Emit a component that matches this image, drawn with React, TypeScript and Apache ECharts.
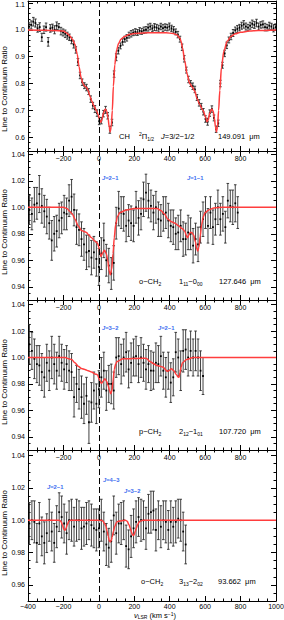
import React, { useEffect, useRef } from "react";
import * as echarts from "echarts";

// ---------- Panel 1: CH 2Pi1/2 J=3/2-1/2 149.091 um ----------
const p1Vel = [
  -394, -382, -370, -358, -346, -334, -322, -310, -298, -286,
  -274, -262, -250, -238, -226, -214, -202, -190, -178, -166,
  -154, -142, -130, -118, -106, -94, -82, -70, -58, -46,
  -34, -22, -10, 2, 14, 26, 38, 50, 62, 74,
  86, 98, 110, 122, 134, 146, 158, 170, 182, 194,
  206, 218, 230, 242, 254, 266, 278, 290, 302, 314,
  326, 338, 350, 362, 374, 386, 398, 410, 422, 434,
  446, 458, 470, 482, 494, 506, 518, 530, 542, 554,
  566, 578, 590, 602, 614, 626, 638, 650, 662, 674,
  686, 698, 710, 722, 734, 746, 758, 770, 782, 794,
  806, 818, 830, 842, 854, 866, 878, 890, 902, 914,
  926, 938, 950, 962, 974, 986, 998,
];
const p1Ratio = [
  1.012, 1.018, 1.03, 1.025, 1.005, 1.01, 0.972, 1.0, 1.01, 0.955,
  1.005, 1.008, 1.0, 1.015, 1.01, 0.995, 0.99, 0.985, 0.978, 0.972,
  0.96, 0.945, 0.925, 0.88, 0.83, 0.805, 0.792, 0.785, 0.77, 0.742,
  0.718, 0.705, 0.69, 0.66, 0.662, 0.688, 0.702, 0.68, 0.628, 0.655,
  0.835, 0.898, 0.922, 0.94, 0.955, 0.965, 0.97, 0.98, 0.985, 0.989,
  0.992, 0.99, 0.996, 0.994, 0.998, 1.0, 1.008, 1.012, 1.005, 1.01,
  1.008, 1.004, 1.012, 1.006, 1.01, 1.008, 1.012, 1.005, 1.0, 0.992,
  0.982, 0.965, 0.935, 0.892, 0.85, 0.815, 0.8, 0.79, 0.778, 0.748,
  0.728, 0.715, 0.695, 0.668, 0.658, 0.69, 0.705, 0.672, 0.63, 0.652,
  0.8, 0.868, 0.912, 0.942, 0.962, 0.975, 0.988, 0.998, 1.003, 1.008,
  1.015, 1.02, 1.012, 1.008, 1.015, 1.022, 1.018, 1.025, 1.012, 1.018,
  1.02, 1.01, 1.008, 1.015, 1.012, 1.005, 1.01,
];
const p1Err = [
  0.014, 0.015, 0.016, 0.015, 0.014, 0.016, 0.015, 0.014, 0.015, 0.016,
  0.014, 0.013, 0.015, 0.014, 0.013, 0.014, 0.013, 0.014, 0.013, 0.012,
  0.012, 0.013, 0.012, 0.013, 0.012, 0.012, 0.011, 0.012, 0.011, 0.012,
  0.012, 0.013, 0.012, 0.013, 0.012, 0.012, 0.013, 0.012, 0.013, 0.012,
  0.012, 0.013, 0.012, 0.011, 0.012, 0.011, 0.012, 0.011, 0.012, 0.011,
  0.012, 0.011, 0.012, 0.011, 0.012, 0.012, 0.013, 0.012, 0.012, 0.013,
  0.012, 0.013, 0.012, 0.013, 0.012, 0.012, 0.013, 0.012, 0.012, 0.011,
  0.012, 0.011, 0.012, 0.012, 0.011, 0.012, 0.011, 0.012, 0.012, 0.011,
  0.012, 0.011, 0.012, 0.012, 0.013, 0.012, 0.012, 0.011, 0.012, 0.012,
  0.012, 0.011, 0.012, 0.012, 0.011, 0.012, 0.013, 0.012, 0.013, 0.012,
  0.013, 0.014, 0.013, 0.012, 0.013, 0.014, 0.013, 0.014, 0.013, 0.012,
  0.013, 0.014, 0.012, 0.013, 0.012, 0.013, 0.012,
];
const p1ModelVel = [
  -400, -300, -250, -200, -182, -165, -150, -135, -122, -112,
  -100, -90, -80, -70, -60, -50, -40, -28, -14, -4,
  4, 10, 17, 26, 36, 44, 52, 58, 64, 70,
  76, 82, 90, 100, 112, 125, 145, 170, 200, 250,
  300, 380, 420, 438, 457, 465, 472, 485, 498, 513,
  528, 541, 554, 569, 588, 603, 610, 617, 626, 637,
  645, 652, 658, 664, 670, 676, 683, 692, 706, 725,
  745, 770, 800, 850, 900, 1000,
];
const p1ModelRatio = [
  0.999, 0.998, 0.997, 0.995, 0.988, 0.978, 0.966, 0.946, 0.909, 0.862,
  0.822, 0.8, 0.79, 0.786, 0.773, 0.752, 0.735, 0.717, 0.7, 0.685,
  0.665, 0.656, 0.664, 0.69, 0.705, 0.698, 0.672, 0.64, 0.62, 0.64,
  0.7, 0.79, 0.87, 0.925, 0.95, 0.965, 0.975, 0.982, 0.986, 0.988,
  0.989, 0.989, 0.986, 0.982, 0.97, 0.955, 0.933, 0.884, 0.835, 0.8,
  0.786, 0.772, 0.745, 0.722, 0.7, 0.675, 0.658, 0.664, 0.69, 0.705,
  0.698, 0.672, 0.64, 0.62, 0.64, 0.7, 0.775, 0.86, 0.921, 0.958,
  0.975, 0.985, 0.991, 0.995, 0.997, 0.999,
];

// ---------- Panel 2: o-CH2 1_11-0_00 127.646 um ----------
const p2Vel = [
  -392, -378, -364, -350, -336, -322, -308, -294, -280, -266,
  -252, -238, -224, -210, -196, -182, -168, -154, -140, -126,
  -112, -98, -84, -70, -56, -42, -28, -14, 0, 14,
  28, 42, 56, 70, 84, 98, 112, 126, 140, 154,
  168, 182, 196, 210, 224, 238, 252, 266, 280, 294,
  308, 322, 336, 350, 364, 378, 392, 406, 420, 434,
  448, 462, 476, 490, 504, 518, 532, 546, 560, 574,
  588, 602, 616, 630, 644, 658, 672, 686, 700, 714,
  728, 742, 756, 770, 784,
];
const p2Ratio = [
  0.998, 0.995, 1.002, 1.003, 1.01, 1.001, 0.997, 0.993, 0.988, 0.975,
  0.98, 0.982, 0.99, 0.992, 0.996, 0.995, 1.005, 1.008, 0.998, 0.985,
  0.983, 0.976, 0.972, 0.966, 0.967, 0.962, 0.966, 0.961, 0.955, 0.965,
  0.975, 0.96, 0.956, 0.95, 0.958, 0.988, 0.999, 0.996, 0.995, 0.986,
  0.99, 0.988, 0.986, 1.0, 0.992, 0.995, 1.006, 1.011, 1.005, 1.001,
  0.996, 1.0, 0.991, 0.99, 0.995, 0.996, 0.99, 0.986, 0.985, 0.98,
  0.981, 0.986, 0.976, 0.976, 0.981, 0.98, 0.971, 0.976, 0.972, 0.985,
  0.991, 0.996, 0.986, 0.996, 0.985, 0.991, 1.0, 0.991, 0.995, 0.985,
  1.005, 1.001, 1.0, 1.003, 0.996,
];
const p2Err = [
  0.011, 0.012, 0.013, 0.012, 0.014, 0.013, 0.012, 0.013, 0.012, 0.015,
  0.013, 0.012, 0.013, 0.012, 0.013, 0.012, 0.012, 0.013, 0.012, 0.013,
  0.012, 0.013, 0.012, 0.013, 0.012, 0.013, 0.012, 0.013, 0.014, 0.012,
  0.013, 0.012, 0.013, 0.012, 0.013, 0.012, 0.013, 0.012, 0.013, 0.012,
  0.012, 0.013, 0.012, 0.012, 0.013, 0.012, 0.013, 0.014, 0.013, 0.012,
  0.013, 0.012, 0.013, 0.012, 0.013, 0.012, 0.013, 0.012, 0.013, 0.012,
  0.013, 0.012, 0.013, 0.012, 0.013, 0.012, 0.013, 0.012, 0.013, 0.012,
  0.013, 0.012, 0.013, 0.012, 0.013, 0.012, 0.013, 0.012, 0.013, 0.012,
  0.013, 0.012, 0.013, 0.014, 0.012,
];
const p2ModelVel = [
  -400, -200, -180, -165, -150, -135, -117, -98, -85, -79,
  -70, -60, -41, -23, -8, 0, 6, 12, 21, 32,
  42, 50, 58, 65, 72, 80, 87, 95, 105, 119,
  156, 200, 330, 350, 370, 390, 410, 430, 450, 470,
  485, 493, 500, 508, 516, 525, 535, 545, 552, 558,
  565, 572, 580, 590, 600, 620, 650, 700, 1000,
];
const p2ModelRatio = [
  1.0, 1.0, 0.999, 0.997, 0.995, 0.991, 0.986, 0.9825, 0.9818, 0.9815,
  0.981, 0.9795, 0.977, 0.9745, 0.973, 0.97, 0.965, 0.963, 0.9655, 0.9675,
  0.965, 0.96, 0.952, 0.949, 0.953, 0.965, 0.977, 0.987, 0.993, 0.996,
  0.998, 0.999, 0.999, 0.9975, 0.995, 0.991, 0.989, 0.988, 0.986, 0.984,
  0.982, 0.979, 0.977, 0.979, 0.981, 0.981, 0.979, 0.974, 0.969, 0.967,
  0.97, 0.978, 0.987, 0.993, 0.996, 0.998, 0.9995, 1.0, 1.0,
];

// ---------- Panel 3: p-CH2 2_12-1_01 107.720 um ----------
const p3Vel = [
  -392, -378, -364, -350, -336, -322, -308, -294, -280, -266,
  -252, -238, -224, -210, -196, -182, -168, -154, -140, -126,
  -112, -98, -84, -70, -56, -42, -28, -14, 0, 14,
  28, 42, 56, 70, 84, 98, 112, 126, 140, 154,
  168, 182, 196, 210, 224, 238, 252, 266, 280, 294,
  308, 322, 336, 350, 364, 378, 392, 406, 420, 434,
  448, 462, 476, 490, 504, 518, 532, 546, 560, 574,
  588,
];
const p3Ratio = [
  1.01, 1.005, 0.999, 0.995, 0.994, 0.989, 0.985, 0.996, 0.99, 1.0,
  0.995, 0.99, 1.001, 0.996, 0.991, 0.995, 0.99, 0.989, 0.97, 0.98,
  0.976, 0.97, 0.965, 0.971, 0.951, 0.966, 0.975, 0.965, 0.976, 0.985,
  0.99, 0.975, 0.98, 0.98, 0.975, 1.0, 1.001, 0.995, 1.0, 1.004,
  0.991, 0.996, 1.0, 1.001, 0.995, 1.0, 0.996, 0.991, 0.995, 0.99,
  0.99, 0.996, 0.995, 1.001, 0.99, 0.985, 0.99, 0.981, 0.985, 1.004,
  1.0, 0.99, 1.005, 1.006, 1.0, 1.005, 1.0, 1.005, 1.0, 0.99,
  0.986,
];
const p3Err = [
  0.015, 0.014, 0.015, 0.014, 0.015, 0.014, 0.015, 0.014, 0.015, 0.016,
  0.015, 0.014, 0.015, 0.014, 0.015, 0.014, 0.015, 0.014, 0.015, 0.014,
  0.015, 0.016, 0.015, 0.014, 0.016, 0.015, 0.014, 0.015, 0.014, 0.015,
  0.014, 0.015, 0.014, 0.015, 0.014, 0.015, 0.014, 0.015, 0.014, 0.015,
  0.014, 0.015, 0.014, 0.015, 0.014, 0.015, 0.014, 0.015, 0.014, 0.015,
  0.014, 0.015, 0.014, 0.015, 0.014, 0.015, 0.014, 0.015, 0.014, 0.015,
  0.014, 0.015, 0.016, 0.015, 0.014, 0.015, 0.014, 0.015, 0.014, 0.015,
  0.014,
];
const p3ModelVel = [
  -400, -190, -170, -154, -135, -117, -98, -79, -60, -41,
  -23, -8, 2, 10, 16, 24, 34, 44, 52, 60,
  67, 74, 80, 87, 95, 103, 137, 250, 269, 288,
  307, 326, 344, 363, 375, 385, 395, 410, 423, 438,
  448, 452, 457, 465, 472, 495, 533, 1000,
];
const p3ModelRatio = [
  1.0, 1.0, 0.999, 0.9985, 0.996, 0.9934, 0.9916, 0.991, 0.99, 0.989,
  0.9876, 0.987, 0.984, 0.981, 0.9805, 0.982, 0.984, 0.982, 0.979, 0.975,
  0.9725, 0.975, 0.982, 0.991, 0.995, 0.997, 0.999, 0.9995, 0.9992, 0.997,
  0.9955, 0.994, 0.9934, 0.9927, 0.991, 0.9895, 0.99, 0.9914, 0.99, 0.987,
  0.9853, 0.985, 0.988, 0.993, 0.996, 0.9985, 1.0, 1.0,
];

// ---------- Panel 4: o-CH2 3_13-2_02 93.662 um ----------
const p4Vel = [
  -392, -378, -364, -350, -336, -322, -308, -294, -280, -266,
  -252, -238, -224, -210, -196, -182, -168, -154, -140, -126,
  -112, -98, -84, -70, -56, -42, -28, -14, 0, 14,
  28, 42, 56, 70, 84, 98, 112, 126, 140, 154,
  168, 182, 196, 210, 224, 238, 252, 266, 280, 294,
  308, 322, 336, 350, 364, 378, 392, 406, 420, 434,
  448, 462, 476, 490,
];
const p4Ratio = [
  0.998, 1.0, 0.999, 0.986, 0.998, 0.99, 0.986, 0.992, 1.0, 0.993,
  0.986, 0.996, 1.005, 1.002, 0.998, 0.992, 1.0, 1.0, 0.996, 1.0,
  1.0, 0.995, 0.996, 0.998, 1.0, 0.997, 0.995, 0.994, 0.995, 1.0,
  0.993, 0.985, 0.983, 0.987, 1.003, 0.992, 0.998, 0.998, 1.0, 0.984,
  0.982, 0.99, 0.995, 0.999, 1.002, 1.0, 1.0, 0.995, 1.004, 1.005,
  1.006, 0.994, 1.0, 0.996, 1.0, 0.999, 0.994, 0.999, 0.996, 0.999,
  1.001, 1.0, 0.993, 0.985,
];
const p4Err = [
  0.013, 0.012, 0.013, 0.012, 0.013, 0.012, 0.013, 0.012, 0.013, 0.012,
  0.012, 0.013, 0.012, 0.013, 0.012, 0.013, 0.012, 0.013, 0.012, 0.013,
  0.012, 0.013, 0.012, 0.013, 0.012, 0.013, 0.012, 0.013, 0.012, 0.013,
  0.012, 0.013, 0.012, 0.013, 0.012, 0.013, 0.012, 0.013, 0.012, 0.013,
  0.012, 0.013, 0.012, 0.013, 0.012, 0.013, 0.012, 0.013, 0.012, 0.013,
  0.012, 0.013, 0.012, 0.013, 0.012, 0.013, 0.012, 0.013, 0.012, 0.013,
  0.012, 0.013, 0.012, 0.012,
];
const p4ModelVel = [
  -400, -225, -215, -205, -198, -192, -186, -179, -170, -160,
  15, 24, 32, 40, 47, 53, 58, 64, 70, 75,
  82, 90, 100, 109, 150, 160, 171, 178, 184, 190,
  194, 199, 205, 211, 218, 226, 235, 250, 1000,
];
const p4ModelRatio = [
  1.0, 1.0, 0.9995, 0.997, 0.9945, 0.9938, 0.9948, 0.997, 0.9993, 1.0,
  1.0, 0.9994, 0.998, 0.9963, 0.993, 0.99, 0.9875, 0.9866, 0.9875, 0.9895,
  0.993, 0.9963, 0.9988, 0.9994, 1.0, 0.9994, 0.997, 0.9948, 0.9928, 0.991,
  0.9905, 0.991, 0.993, 0.995, 0.997, 0.9988, 0.9995, 1.0, 1.0,
];

// ---------- axes / tick labels ----------
const xTickValues = [-400, -200, 0, 200, 400, 600, 800, 1000];
const p1YTicks = [0.6, 0.7, 0.8, 0.9, 1.0];
const p1TopTick = 1.1; // top label of panel 1 (the axis drops it at the chart's top edge)
const p2YTicks = [0.94, 0.96, 0.98, 1.0, 1.02, 1.04];
const p3YTicks = [0.94, 0.96, 0.98, 1.0, 1.02, 1.04];
const p4YTicks = [0.96, 0.98, 1.0, 1.02, 1.04];
const yTicks = [p1YTicks, p2YTicks, p3YTicks, p4YTicks];
const yDigits = [1, 2, 2, 2];
const yMin = [0.549, 0.93, 0.93, 0.95];
const yMax = [1.107, 1.0425, 1.0435, 1.0435];

const FONT = '"Liberation Sans", Arial, Helvetica, sans-serif';
const RED = "#ff3d3d";
const BLUE = "#3a6df0";

const zip3 = (a: number[], b: number[], c: number[]) => {
  const n = Math.min(a.length, b.length, c.length);
  const out: number[][] = [];
  for (let i = 0; i < n; i++) out.push([a[i], b[i], c[i]]);
  return out;
};
const zip2 = (a: number[], b: number[]) => {
  const n = Math.min(a.length, b.length);
  const out: number[][] = [];
  for (let i = 0; i < n; i++) out.push([a[i], b[i]]);
  return out;
};

const obsData = [
  zip3(p1Vel, p1Ratio, p1Err),
  zip3(p2Vel, p2Ratio, p2Err),
  zip3(p3Vel, p3Ratio, p3Err),
  zip3(p4Vel, p4Ratio, p4Err),
];
const modelData = [
  zip2(p1ModelVel, p1ModelRatio),
  zip2(p2ModelVel, p2ModelRatio),
  zip2(p3ModelVel, p3ModelRatio),
  zip2(p4ModelVel, p4ModelRatio),
];

const GRID_TOP = [1, 151, 300, 450];
const GRID_H = [150, 149, 150, 151];

const errRender = (params: any, api: any) => {
  const v = api.value(0);
  const r = api.value(1);
  const e = api.value(2);
  const c = api.coord([v, r]);
  const hi = api.coord([v, r + e]);
  const lo = api.coord([v, r - e]);
  const cap = 1.3;
  const stroke = "#2b2b2b";
  return {
    type: "group",
    children: [
      { type: "line", shape: { x1: c[0], y1: hi[1], x2: c[0], y2: lo[1] }, style: { stroke, lineWidth: 0.9 } },
      { type: "line", shape: { x1: c[0] - cap, y1: hi[1], x2: c[0] + cap, y2: hi[1] }, style: { stroke, lineWidth: 0.9 } },
      { type: "line", shape: { x1: c[0] - cap, y1: lo[1], x2: c[0] + cap, y2: lo[1] }, style: { stroke, lineWidth: 0.9 } },
      { type: "rect", shape: { x: c[0] - 0.9, y: c[1] - 0.9, width: 1.8, height: 1.8 }, style: { fill: "#000" } },
    ],
  };
};

const makeRich = (lh: number) => ({
  b: { fontSize: 7.5, fontFamily: FONT, lineHeight: lh, fill: "#000" },
  it: { fontSize: 7.5, fontFamily: FONT, fontStyle: "italic", lineHeight: lh, fill: "#000" },
  sub: { fontSize: 5, fontFamily: FONT, lineHeight: lh / 2, verticalAlign: "bottom", fill: "#000" },
  sup: { fontSize: 5, fontFamily: FONT, lineHeight: lh / 2, verticalAlign: "top", fill: "#000" },
});
const richBase = makeRich(10);
const richTitle = makeRich(8);
const richBlue = {
  i: { fontSize: 5.8, fontFamily: FONT, fontStyle: "italic", fontWeight: "bold", fill: BLUE },
  n: { fontSize: 5.8, fontFamily: FONT, fontWeight: "bold", fill: BLUE },
};

const txt = (x: number, y: number, text: string, align = "left", rich: any = richBase) => ({
  type: "text",
  x,
  y,
  silent: true,
  style: { text, rich, fill: "#000", fontSize: 7.5, fontFamily: FONT, align, verticalAlign: "middle" },
});
const blue = (x: number, y: number, label: string) => ({
  type: "text",
  x,
  y,
  silent: true,
  style: { text: "{i|J}{n|" + label + "}", rich: richBlue, fill: BLUE, fontSize: 5.8, fontFamily: FONT, align: "left", verticalAlign: "middle" },
});
const yTitle = (y: number) => ({
  type: "text",
  x: 4.5,
  y,
  rotation: Math.PI / 2,
  silent: true,
  style: { text: "Line to Continuum Ratio", fill: "#000", fontSize: 8, fontFamily: FONT, align: "center", verticalAlign: "middle" },
});

export default function App() {
  const ref = useRef<HTMLDivElement>(null);
  useEffect(() => {
    if (!ref.current) return;
    const chart = echarts.init(ref.current, undefined, { renderer: "svg" });
    const grids: any[] = [];
    const xAxes: any[] = [];
    const yAxes: any[] = [];
    const series: any[] = [];
    const axisLine = { show: true, onZero: false, lineStyle: { color: "#000", width: 1 } };
    for (let i = 0; i < 4; i++) {
      grids.push({ left: 28, right: 8, top: GRID_TOP[i], height: GRID_H[i], containLabel: false, outerBoundsMode: "none" });
      const xCommon = {
        type: "value",
        gridIndex: i,
        min: xTickValues[0],
        max: xTickValues[xTickValues.length - 1],
        interval: 200,
        axisLine,
        axisTick: { show: true, inside: true, length: 5, lineStyle: { color: "#000", width: 1 } },
        minorTick: { show: true, splitNumber: 4, length: 2.5, lineStyle: { color: "#000", width: 1 } },
        splitLine: { show: false },
        minorSplitLine: { show: false },
      };
      xAxes.push({
        ...xCommon,
        position: "bottom",
        axisLabel: {
          show: true,
          margin: i === 3 ? 2 : 3.5,
          fontSize: 7,
          fontFamily: FONT,
          color: "#000",
          showMinLabel: i === 3,
          showMaxLabel: i === 3,
          formatter: (v: number) => (v < 0 ? "\u2212" + Math.abs(v) : String(v)),
        },
      });
      xAxes.push({ ...xCommon, position: "top", axisLabel: { show: false } });
      const dig = yDigits[i];
      const yCommon = {
        type: "value",
        gridIndex: i,
        min: yMin[i],
        max: yMax[i],
        splitNumber: 5,
        axisLine,
        axisTick: { show: true, inside: true, length: 5, lineStyle: { color: "#000", width: 1 } },
        minorTick: { show: true, splitNumber: i === 0 ? 5 : 4, length: 2.5, lineStyle: { color: "#000", width: 1 } },
        splitLine: { show: false },
        minorSplitLine: { show: false },
      };
      yAxes.push({
        ...yCommon,
        position: "left",
        axisLabel: {
          show: true,
          margin: 3,
          fontSize: 7,
          lineHeight: 7,
          fontFamily: FONT,
          color: "#000",
          hideOverlap: false,
          showMinLabel: true,
          showMaxLabel: true,
          customValues: yTicks[i],
          formatter: (v: number) => v.toFixed(dig),
        },
      });
      yAxes.push({ ...yCommon, position: "right", axisLabel: { show: false } });
      series.push({
        type: "custom",
        xAxisIndex: 2 * i,
        yAxisIndex: 2 * i,
        data: obsData[i],
        renderItem: errRender,
        encode: { x: 0, y: 1 },
        clip: true,
        silent: true,
        z: 2,
      });
      series.push({
        type: "line",
        xAxisIndex: 2 * i,
        yAxisIndex: 2 * i,
        data: modelData[i],
        symbol: "none",
        showSymbol: false,
        smooth: 0.3,
        smoothMonotone: "x",
        clip: true,
        silent: true,
        lineStyle: { color: RED, width: 1.5 },
        z: 3,
        markLine: {
          silent: true,
          symbol: ["none", "none"],
          label: { show: false },
          lineStyle: { color: "#000", width: 1, type: [6, 3] },
          data: [{ xAxis: 0 }],
        },
      });
    }

    const graphic: any[] = [
      yTitle(89),
      yTitle(232),
      yTitle(382),
      yTitle(533),
      // panel 1 top tick label
      {
        type: "text",
        x: 25,
        y: 4.5,
        z: 100,
        silent: true,
        style: { text: p1TopTick.toFixed(1), fill: "#000", fontSize: 7, fontFamily: FONT, align: "right", verticalAlign: "middle" },
      },
      // panel 1
      txt(119, 136, "{b|CH}"),
      txt(139, 136, "{sup|2}{b|\u03A0}{sub|1/2}"),
      txt(161, 136, "{it|J}{b|=3/2\u22121/2}"),
      txt(218, 136, "{b|149.091  \u03BCm}"),
      // panel 2
      txt(139, 281.7, "{b|o\u2212CH}{sub|2}"),
      txt(179, 281.7, "{b|1}{sub|11}{b|\u22120}{sub|00}"),
      txt(219, 281.7, "{b|127.646  \u03BCm}"),
      // panel 3
      txt(139, 431.7, "{b|p\u2212CH}{sub|2}"),
      txt(179, 431.7, "{b|2}{sub|12}{b|\u22121}{sub|01}"),
      txt(219, 431.7, "{b|107.720  \u03BCm}"),
      // panel 4
      txt(141, 581.7, "{b|o\u2212CH}{sub|2}"),
      txt(179, 581.7, "{b|3}{sub|13}{b|\u22122}{sub|02}"),
      txt(218, 581.7, "{b|93.662  \u03BCm}"),
      // blue transition labels
      blue(102, 178, "=2\u22121"),
      blue(187, 178, "=1\u22121"),
      blue(102, 328, "=3\u22122"),
      blue(158, 328, "=2\u22121"),
      blue(47, 487, "=2\u22121"),
      blue(103, 480, "=4\u22123"),
      blue(124, 491, "=3\u22122"),
      // x axis title
      txt(155, 615.5, "{it|v}{sub|LSR}{b| (km s}{sup|\u22121}{b|)}", "center", richTitle),
    ];

    chart.setOption({
      animation: false,
      backgroundColor: "#fff",
      grid: grids,
      xAxis: xAxes,
      yAxis: yAxes,
      series,
      graphic,
    });
    return () => chart.dispose();
  }, []);
  return (
    <div
      ref={ref}
      style={{ position: "fixed", left: 0, top: 0, width: 284, height: 620, background: "#fff" }}
    />
  );
}
